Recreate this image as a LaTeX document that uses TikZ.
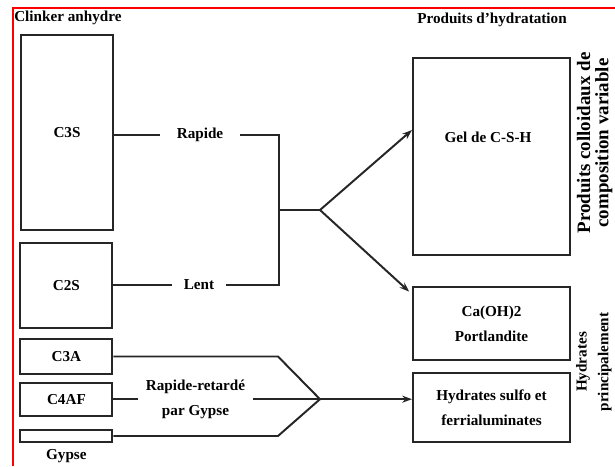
\documentclass[tikz,border=0pt]{standalone}
\usepackage{fontspec}
\setmainfont{Liberation Serif}
\usepackage{tikz}
\usetikzlibrary{arrows.meta,positioning,calc}
\begin{document}
\begin{tikzpicture}[
  >={Stealth[length=7pt,width=5pt]},
  font=\fontsize{10.8}{18}\selectfont\bfseries,
  box/.style={rectangle, draw=black!85, line width=1.4pt,
              inner sep=0pt, align=center},
  clk/.style={box, minimum width=2.3cm},
  prd/.style={box, minimum width=3.925cm},
  lbl/.style={inner sep=0pt, align=center},
  side/.style={rotate=90, anchor=south, align=center, inner sep=0pt},
  link/.style={draw=black!85, line width=1.4pt},
]
  \clip (0,0) rectangle (15.375,11.65);
  % frame
  \draw[red, line width=1.5pt] (0.325,0) -- (0.325,11.45) -- (15.375,11.45);
  % titles
  \node[lbl, anchor=west] (clinker) at (0.35,11.2) {Clinker anhydre};
  \node[lbl] (produits) at (12.3,11.15) {Produits d'hydratation};
  % CLINKER
  \node[clk, minimum height=4.875cm] (c3s) at (1.675,8.3375) {C3S};
  \node[clk, minimum height=2.125cm] (c2s) at (1.66,4.5125) {C2S};
  \node[clk, minimum height=0.875cm] (c3a) at (1.66,2.7375) {C3A};
  \node[clk, minimum height=0.825cm] (c4af) at (1.66,1.67) {C4AF};
  \node[clk, minimum height=0.3cm] (gyp) at (1.66,0.75) {};
  \node[lbl] (gyp-t) at (1.66,0.24) {Gypse};
  % PRODUITS
  \node[prd, minimum height=4.925cm] (gel) at (12.2875,7.7375) {};
  \node[lbl] (gel-t) at (12.2,8.225) {Gel de C-S-H};
  \node[prd, minimum height=1.825cm] (caoh) at (12.2875,3.5625) {Ca(OH)2\\Portlandite};
  \node[prd, minimum height=1.725cm] (hyd) at (12.2875,1.4625) {Hydrates sulfo et\\ferrialuminates};
  % side notes
  \node[side, font=\fontsize{13.5}{13}\selectfont\bfseries] (colloid) at (15.32,8.075)
    {Produits colloidaux de\\composition variable};
  \node[side, font=\fontsize{10.8}{15.5}\selectfont\bfseries] (princ) at (15.3,2.6)
    {Hydrates\\principalement};
  % silicates
  \node[lbl, minimum width=2cm] (rapide) at (5.0,8.275) {Rapide};
  \node[lbl, minimum width=1.35cm] (lent) at (4.975,4.525) {Lent};
  \coordinate (j1) at (6.975,8.275);
  \coordinate (j2) at (6.975,4.525);
  \coordinate (fork) at (8.0,6.4);
  \draw[link] (c3s.east|-rapide) -- (rapide.west);
  \draw[link] (rapide.east) -- (j1) -- (j2) -- (lent.east);
  \draw[link] (lent.west) -- (c2s.east|-lent);
  \draw[link] (j1|-fork) -- (fork);
  \draw[link,->] (fork) -- (gel.west|-0,8.4);
  \draw[link,->] (fork) -- ([xshift=-2pt,yshift=-4pt]caoh.north west);
  % aluminates
  \coordinate (tip) at (8.0,1.67);
  \coordinate (bend-a) at (6.95,2.7375);
  \coordinate (bend-b) at (6.95,0.75);
  \node[lbl, minimum width=2.875cm] (retard) at (4.8875,1.67) {Rapide-retardé\\par Gypse};
  \draw[link] (c3a.east) -- (bend-a) -- (tip) -- (bend-b) -- (gyp.east);
  \draw[link] (c4af.east) -- (retard.west);
  \draw[link] (retard.east) -- (tip);
  \draw[link,->] (tip) -- (hyd.west|-tip);
\end{tikzpicture}
\end{document}
